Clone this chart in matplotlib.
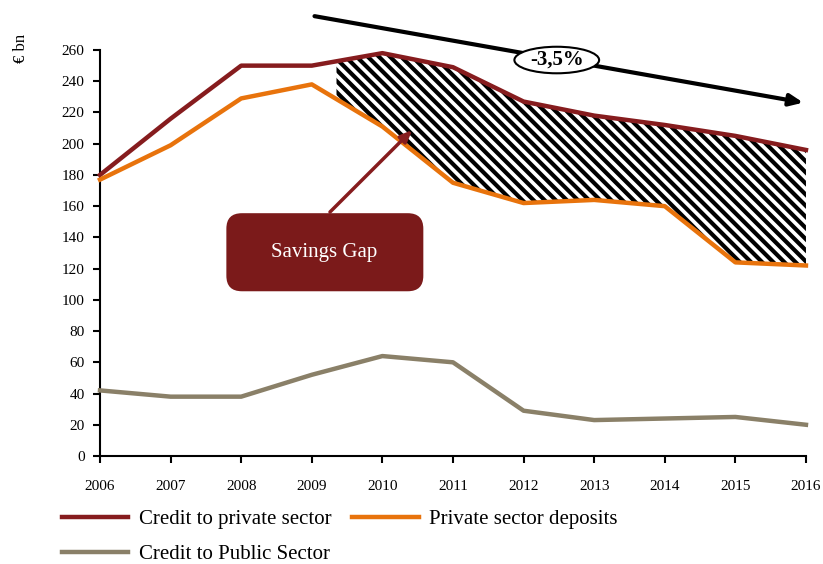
import numpy as np
import matplotlib.pyplot as plt
from matplotlib.patches import FancyBboxPatch, Ellipse

plt.rcParams['font.family'] = ['Liberation Serif', 'DejaVu Serif']
plt.rcParams['hatch.linewidth'] = 3.0

years = [2006, 2007, 2008, 2009, 2010, 2011, 2012, 2013, 2014, 2015, 2016]
credit_private = [180, 216, 250, 250, 258, 249, 227, 218, 212, 205, 196]
deposits = [177, 199, 229, 238, 211, 175, 162, 164, 160, 124, 122]
credit_public = [42, 38, 38, 52, 64, 60, 29, 23, 24, 25, 20]

c_priv = '#861c1e'
c_dep = '#e8730c'
c_pub = '#8a8068'

fig = plt.figure(figsize=(8.23, 5.64), dpi=100)
ax = fig.add_axes([0.1215, 0.1915, 0.8578, 0.7198])

# savings gap hatch between the two lines
gx = np.linspace(2009.35, 2016, 200)
top = np.interp(gx, years, credit_private)
bot = np.interp(gx, years, deposits)
ax.fill_between(gx, bot, top, facecolor='white', edgecolor='black',
                hatch='\\\\\\', linewidth=0, zorder=1)

l1, = ax.plot(years, credit_private, color=c_priv, lw=3.2, zorder=3, clip_on=False)
l2, = ax.plot(years, deposits, color=c_dep, lw=3.2, zorder=3, clip_on=False)
l3, = ax.plot(years, credit_public, color=c_pub, lw=3.2, zorder=3, clip_on=False)

ax.set_xlim(2006, 2016)
ax.set_ylim(0, 260)
ax.set_xticks(years)
ax.set_yticks(range(0, 261, 20))
ax.spines['top'].set_visible(False)
ax.spines['right'].set_visible(False)
ax.spines['left'].set_linewidth(1.5)
ax.spines['bottom'].set_linewidth(1.5)
ax.tick_params(axis='y', direction='out', length=5, width=1.5, labelsize=11, pad=6)
ax.tick_params(axis='x', direction='out', length=5, width=1.5, labelsize=11, pad=12)

fig.text(0.026, 0.915, '€ bn', rotation=90, fontsize=12, ha='center', va='center')

# trend arrow
ax.annotate('', xy=(2016.0, 226), xytext=(2009.0, 282),
            arrowprops=dict(arrowstyle='-|>,head_length=0.8,head_width=0.35',
                            color='black', lw=3), annotation_clip=False, zorder=5)
ax.add_patch(Ellipse((2012.47, 253.6), 1.2, 17, facecolor='white',
                     edgecolor='black', lw=1.5, zorder=6, clip_on=False))
ax.text(2012.47, 253.6, '-3,5%', ha='center', va='center', fontsize=15,
        fontweight='bold', zorder=7)

# savings gap label
ax.annotate('', xy=(2010.45, 210), xytext=(2009.23, 155),
            arrowprops=dict(arrowstyle='-|>,head_length=0.7,head_width=0.3',
                            color=c_priv, lw=2.5), zorder=5)
box = FancyBboxPatch((2007.79, 105.5), 2.79, 50, boxstyle='round,pad=0,rounding_size=0.22',
                     facecolor='#7b1a1a', edgecolor='none', zorder=6,
                     mutation_aspect=45)
ax.add_patch(box)
ax.text(2009.18, 130.6, 'Savings Gap', ha='center', va='center', color='white',
        fontsize=15, zorder=7)

fig.legend([l1, l3, l2], ['Credit to private sector', 'Credit to Public Sector',
                          'Private sector deposits'],
           loc='lower left', bbox_to_anchor=(0.052, -0.034), ncol=2, frameon=False,
           fontsize=15, handlelength=3.2, handletextpad=0.5, columnspacing=1.0,
           labelspacing=0.75)

fig.savefig('out.png', dpi=100)
